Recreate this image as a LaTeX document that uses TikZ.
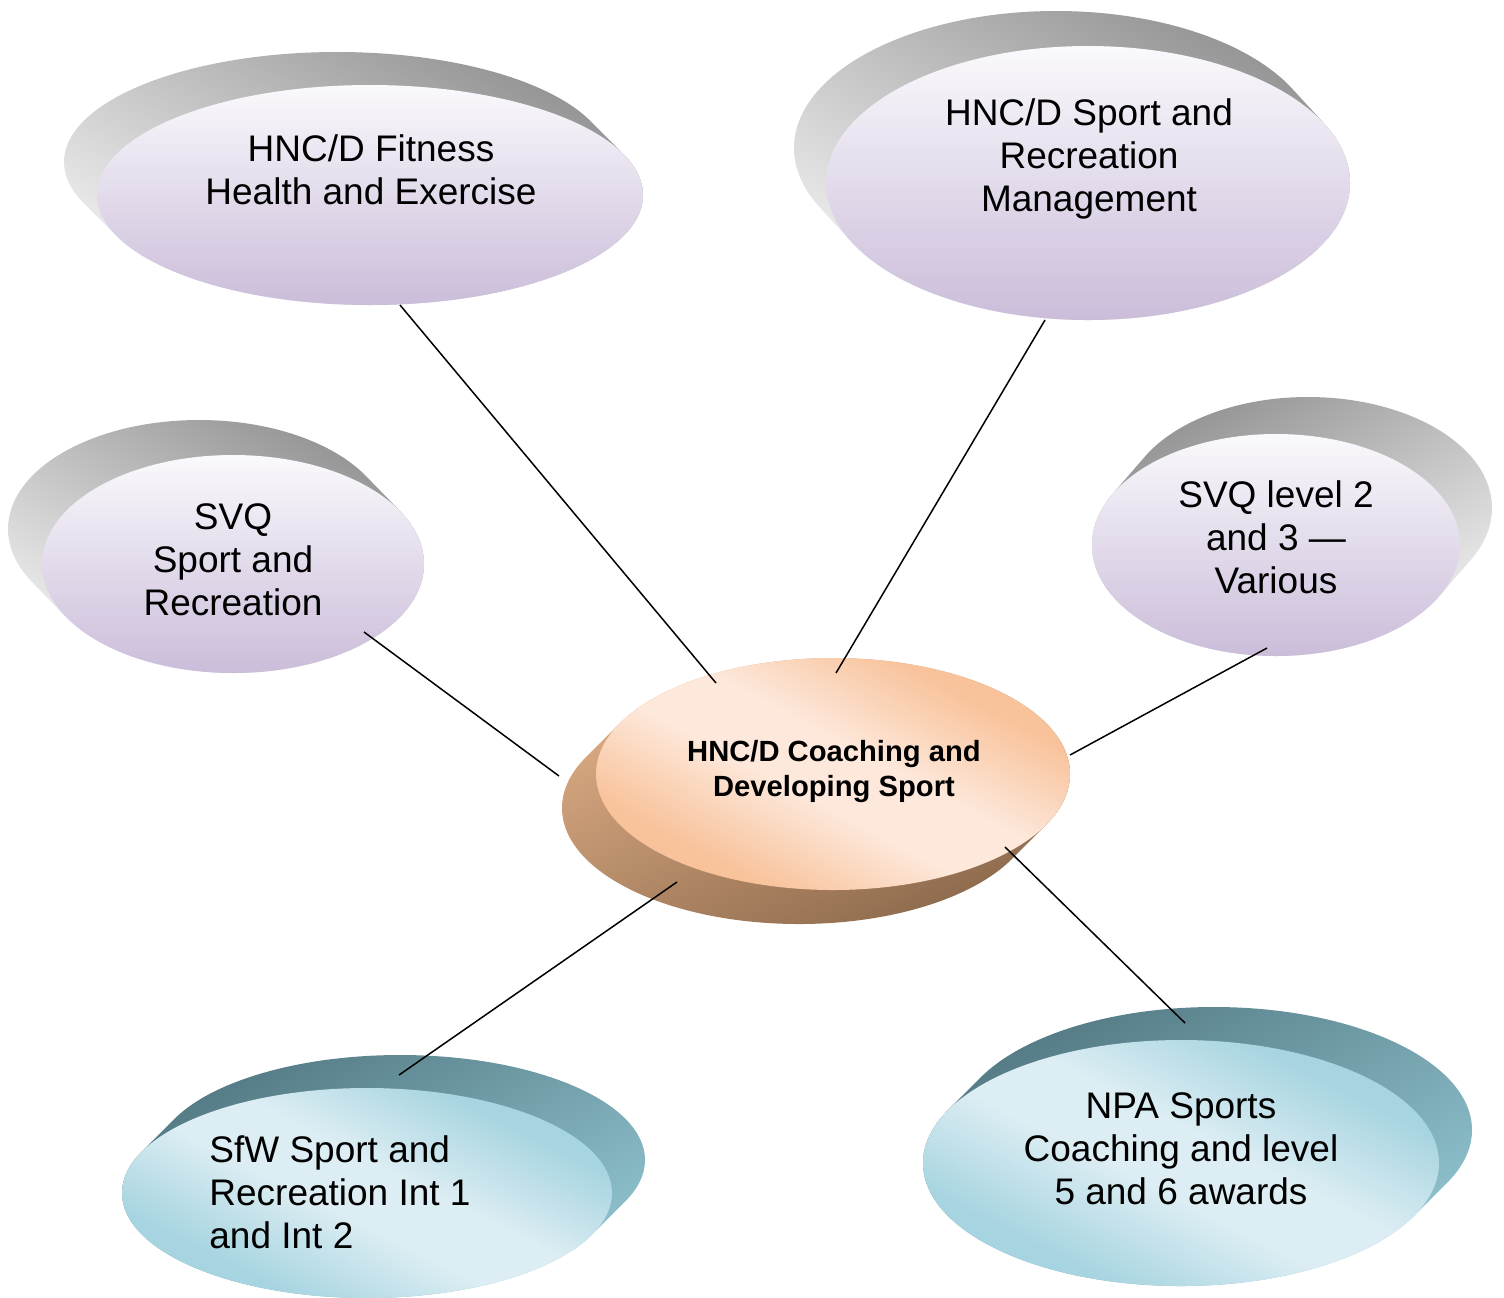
\documentclass[tikz,border=0pt]{standalone}
\usepackage{fontspec}
\setmainfont{Liberation Sans}
\usetikzlibrary{shapes.geometric}
\definecolor{lavtop}{HTML}{FAF9FC}
\definecolor{lavbot}{HTML}{CBBDDA}
\definecolor{graydk}{HTML}{939393}
\definecolor{graylt}{HTML}{EEEEEE}
\definecolor{peachd}{HTML}{F8C29A}
\definecolor{peachl}{HTML}{FDE8DB}
\definecolor{brownl}{HTML}{DEAD85}
\definecolor{brownd}{HTML}{8C694C}
\definecolor{tealfd}{HTML}{A6D4E0}
\definecolor{tealfl}{HTML}{DCEDF3}
\definecolor{tealdk}{HTML}{547A84}
\definecolor{teallt}{HTML}{8FC3CF}
\pgfdeclareverticalshading{peachsh}{100bp}{color(0bp)=(peachd); color(29bp)=(peachd); color(45bp)=(peachl); color(55bp)=(peachl); color(71bp)=(peachd); color(100bp)=(peachd)}
\pgfdeclareverticalshading{tealsh}{100bp}{color(0bp)=(tealfd); color(29bp)=(tealfd); color(45bp)=(tealfl); color(55bp)=(tealfl); color(71bp)=(tealfd); color(100bp)=(tealfd)}
\tikzset{
  frontell/.style={ellipse, inner sep=0pt, outer sep=0pt, draw=none},
  lavfront/.style={frontell, top color=lavtop, bottom color=lavbot},
  peachfront/.style={frontell, shade, shading=peachsh, shading angle=-28},
  tealfront/.style={frontell, shade, shading=tealsh, shading angle=-27},
  grayshadeL/.style={top color=graydk, bottom color=graylt, shading angle=-30},
  grayshadeR/.style={top color=graydk, bottom color=graylt, shading angle=30},
  brownshade/.style={top color=brownl, bottom color=brownd, shading angle=25},
  tealshade/.style={top color=tealdk, bottom color=teallt, shading angle=30},
  lbl/.style={align=center, inner sep=0pt, font=\fontsize{18.5}{21.5}\selectfont},
  lblb/.style={align=center, inner sep=0pt, font=\fontsize{14.6}{17.5}\selectfont\bfseries},
  conn/.style={line width=0.75pt, draw=black}
}
% extrusion: cx cy dx dy rx(pt) ry(pt) style
\newcommand\myextrude[7]{%
  \path[#7] \foreach \k in {0,...,30} { ({#1+\k/30*(#3)},{#2+\k/30*(#4)}) ellipse [x radius=#5, y radius=#6] };%
}
\begin{document}
\begin{tikzpicture}[x=0.5pt,y=-0.5pt]
\useasboundingbox (0,0) rectangle (1504,1297);
% shadows / extrusions
\myextrude{370}{195}{-33}{-33}{136.5pt}{55pt}{grayshadeL}
\myextrude{1088}{183}{-32}{-35}{131pt}{68.5pt}{grayshadeL}
\myextrude{233}{564}{-34}{-35}{95.5pt}{54.5pt}{grayshadeL}
\myextrude{1276}{545}{32}{-37}{92pt}{55.5pt}{grayshadeR}
\myextrude{833}{774}{-34}{34}{118.5pt}{58pt}{brownshade}
\myextrude{367}{1193}{33}{-33}{122.5pt}{52.5pt}{tealshade}
\myextrude{1181}{1163}{33}{-33}{129pt}{61.5pt}{tealshade}
% front ellipses
\node[lavfront, minimum width=273pt, minimum height=110pt] (e1) at (370,195) {};
\node[lavfront, minimum width=262pt, minimum height=137pt] (e2) at (1088,183) {};
\node[lavfront, minimum width=191pt, minimum height=109pt] (e3) at (233,564) {};
\node[lavfront, minimum width=184pt, minimum height=111pt] (e4) at (1276,545) {};
\node[peachfront, minimum width=237pt, minimum height=116pt] (e5) at (833,774) {};
\node[tealfront, minimum width=245pt, minimum height=105pt] (e6) at (367,1193) {};
\node[tealfront, minimum width=258pt, minimum height=123pt] (e7) at (1181,1163) {};
% texts
\node[lbl] (t1) at (371,170) {HNC/D Fitness\\Health and Exercise};
\node[lbl] (t2) at (1089,159) {HNC/D Sport and\\Recreation\\Management};
\node[lbl] (t3) at (233,560) {SVQ\\Sport and\\Recreation};
\node[lbl] (t4) at (1276,537) {SVQ level 2\\and 3 —\\Various};
\node[lblb] (t5) at (834,771) {HNC/D Coaching and\\Developing Sport};
\node[lbl, align=left, anchor=west] (t6) at (209,1192) {SfW Sport and\\Recreation Int 1\\and Int 2};
\node[lbl] (t7) at (1181,1149) {NPA Sports\\Coaching and level\\5 and 6 awards};
% connector end points
\coordinate (a1) at (400,305);  \coordinate (b1) at (716,683);
\coordinate (a2) at (1045,320); \coordinate (b2) at (836,673);
\coordinate (a3) at (364,632);  \coordinate (b3) at (559,776);
\coordinate (a4) at (1267,648); \coordinate (b4) at (1070,755);
\coordinate (a6) at (399,1075); \coordinate (b6) at (677,882);
\coordinate (a7) at (1185,1023);\coordinate (b7) at (1005,847);
\draw[conn] (a1) -- (b1);
\draw[conn] (a2) -- (b2);
\draw[conn] (a3) -- (b3);
\draw[conn] (a4) -- (b4);
\draw[conn] (b6) -- (a6);
\draw[conn] (b7) -- (a7);
\end{tikzpicture}
\end{document}
